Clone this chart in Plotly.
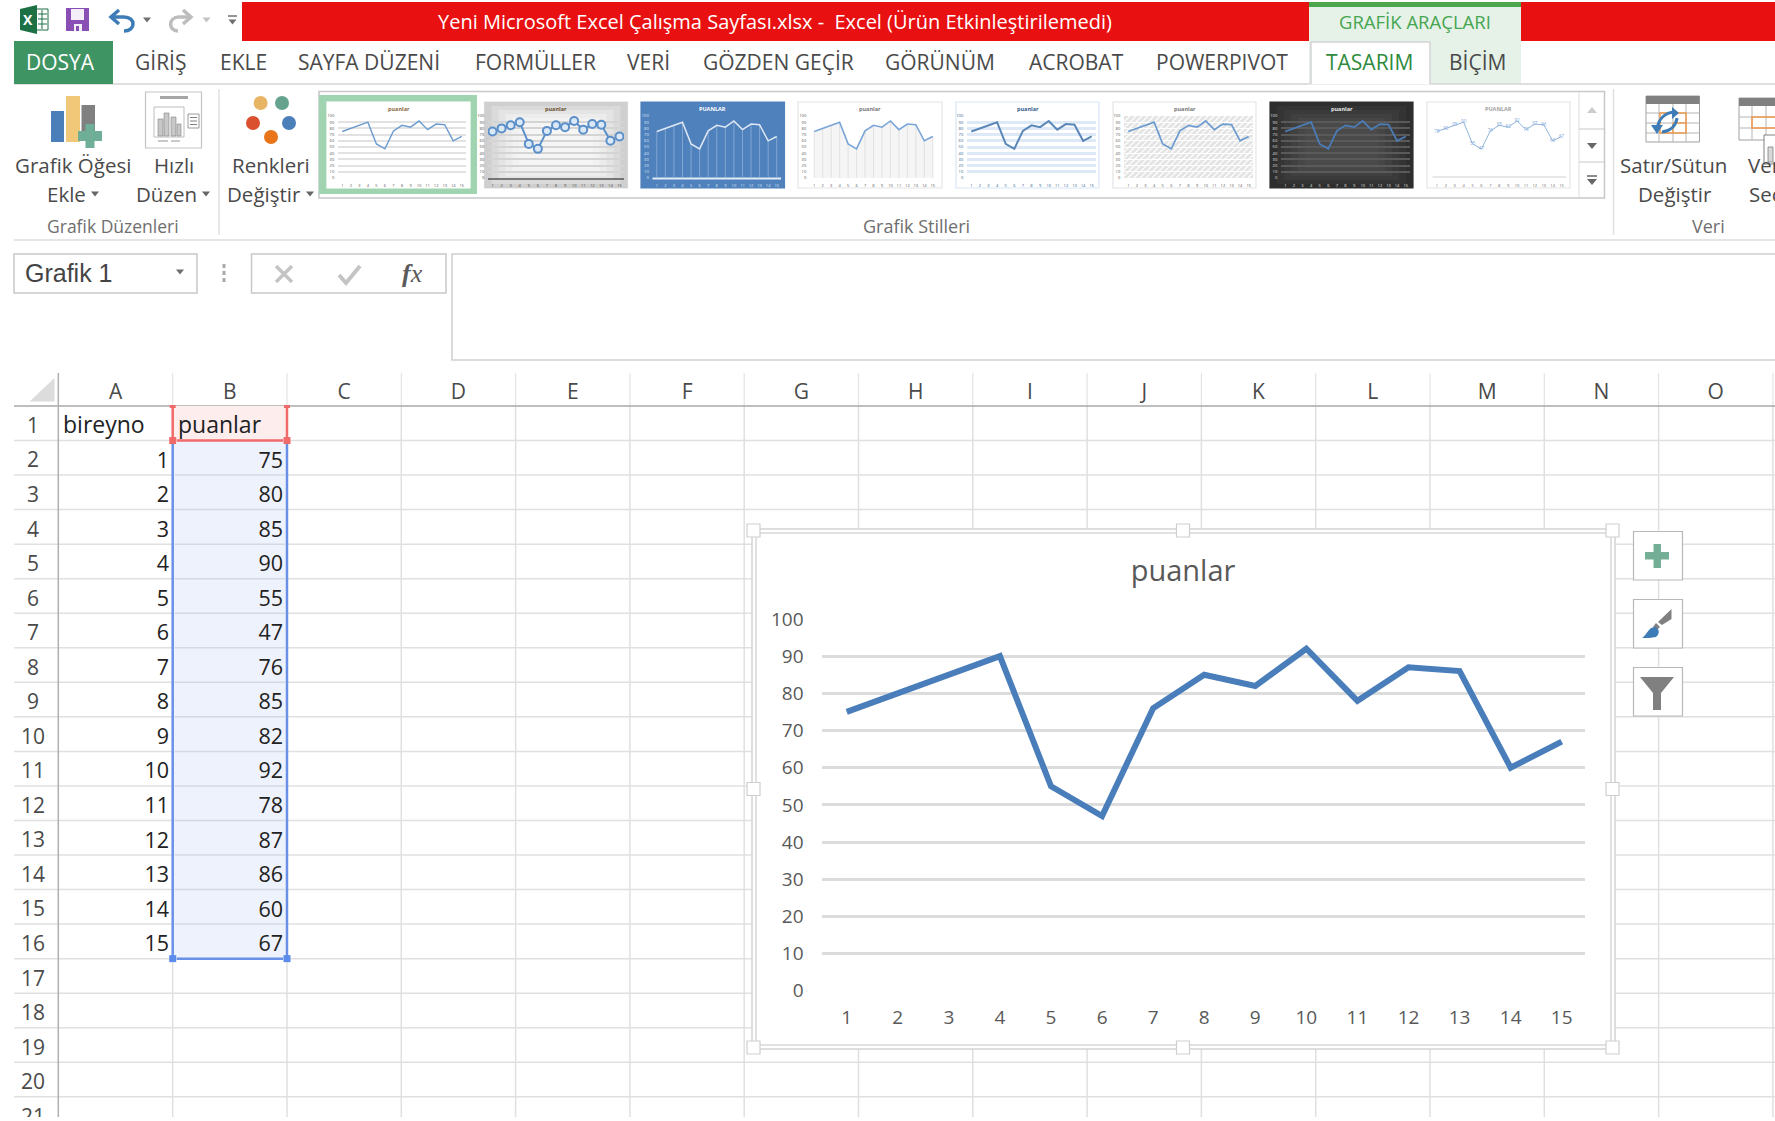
import plotly.graph_objects as go

# values from the sheet
bireyno = [1, 2, 3, 4, 5, 6, 7, 8, 9, 10, 11, 12, 13, 14, 15]
puanlar = [75, 80, 85, 90, 55, 47, 76, 85, 82, 92, 78, 87, 86, 60, 67]
y_ticks = [0, 10, 20, 30, 40, 50, 60, 70, 80, 90, 100]
col_names = ["A", "B", "C", "D", "E", "F", "G", "H", "I", "J", "K", "L", "M", "N", "O"]
row_names = [str(i) for i in range(1, 22)]
tabs = ["GİRİŞ", "EKLE", "SAYFA DÜZENİ", "FORMÜLLER", "VERİ", "GÖZDEN GEÇİR", "GÖRÜNÜM", "ACROBAT", "POWERPIVOT"]
tab_x = [160, 243, 369, 535, 648, 778, 940, 1076, 1222]

W, H = 1775, 1121
FONT = "Open Sans"
TXT = "#4a4a4a"
shapes = []
notes = []


def rect(x0, y0, x1, y1, fill=None, line=None, lw=1):
    shapes.append(dict(type="rect", xref="x", yref="y", x0=x0, y0=y0, x1=x1, y1=y1, layer="below",
                       fillcolor=fill or "rgba(0,0,0,0)",
                       line=dict(color=line or "rgba(0,0,0,0)", width=lw if line else 0)))


def seg(x0, y0, x1, y1, color="#dcdcdc", lw=1.5):
    shapes.append(dict(type="line", xref="x", yref="y", x0=x0, y0=y0, x1=x1, y1=y1, layer="below",
                       line=dict(color=color, width=lw)))


def path(d, fill=None, line=None, lw=1):
    shapes.append(dict(type="path", xref="x", yref="y", path=d, layer="below",
                       fillcolor=fill or "rgba(0,0,0,0)",
                       line=dict(color=line or "rgba(0,0,0,0)", width=lw if line else 0)))


def circle(cx, cy, r, fill):
    shapes.append(dict(type="circle", xref="x", yref="y", x0=cx - r, y0=cy - r, x1=cx + r, y1=cy + r,
                       layer="below", fillcolor=fill, line=dict(width=0)))


def label(x, y, text, size=20.5, color=TXT, anchor="center", family=FONT):
    notes.append(dict(xref="x", yref="y", x=x, y=y, text=text, showarrow=False, xanchor=anchor,
                      yanchor="middle", font=dict(family=family, size=size, color=color)))


def tri(cx, cy, s=4, color="#666666"):
    path(f"M{cx-s},{cy-s*0.6} L{cx+s},{cy-s*0.6} L{cx},{cy+s*0.6} Z", fill=color)


def glow(box, colors):
    # concentric boxes stand in for the radial fill of two gallery styles
    x0, y0, x1, y1 = box
    for k, c in enumerate(colors):
        rect(x0 + k * 7, y0 + k * 4, x1 - k * 7, y1 - k * 4, fill=c)


# title bar
rect(242, 2, 1775, 41, fill="#E81010")
rect(1309, 2, 1521, 84, fill="#E6F2E8")
rect(1309, 2, 1521, 7, fill="#4CA64C")
label(775, 21, "Yeni Microsoft Excel Çalışma Sayfası.xlsx -  Excel (Ürün Etkinleştirilemedi)", size=20, color="#ffffff")
label(1415, 21.5, "GRAFİK ARAÇLARI", size=18.5, color="#45A550")

# quick access icons
rect(36, 9, 48, 30, fill="#ffffff", line="#1D7044", lw=1)
for yy in (14, 19, 24):
    seg(38, yy, 47, yy, "#1D7044", 1)
seg(42, 10, 42, 29, "#1D7044", 1)
path("M20,9 L37,5 L37,34 L20,30 Z", fill="#1D7044")
label(28, 19.5, "<b>X</b>", size=14, color="#ffffff")
rect(66, 8, 89, 31, fill="#8A4FB5")
rect(71, 9, 84, 20, fill="#f4eef8")
rect(74, 24, 82, 31, fill="#f4eef8")
rect(76, 26, 79, 31, fill="#8A4FB5")
path("M112,17 L124,17 C136,17 136,31 124,31", line="#3E7CB8", lw=3.5)
path("M119,10 L111,17 L119,24", line="#3E7CB8", lw=3.5)
path("M190,17 L179,17 C168,17 168,31 178,31", line="#BDBDBD", lw=3.5)
path("M183,10 L191,17 L183,24", line="#BDBDBD", lw=3.5)
tri(147, 20, 4, "#707070")
tri(206.5, 20, 4, "#c4c4c4")
seg(228, 16, 237, 16, "#707070", 1.5)
tri(232.5, 22, 4, "#707070")

# tabs
seg(14, 84, 1775, 84, "#d4d4d4", 1.5)
rect(14, 41, 113, 84, fill="#3F9464")
label(60, 62, "DOSYA", size=21, color="#ffffff")
for name, x in zip(tabs, tab_x):
    label(x, 62, name, size=21)
rect(1311, 42, 1430, 85, fill="#ffffff", line="#d4d4d4", lw=1.5)
rect(1309, 84.5, 1431, 90, fill="#ffffff")
label(1369, 62, "TASARIM", size=21, color="#2E8B3D")
label(1477, 62, "BİÇİM", size=21)

# ribbon, left groups
seg(14, 240, 1775, 240, "#dcdcdc", 1.5)
seg(219, 89, 219, 235, "#e0e0e0", 1.5)
seg(1613.5, 89, 1613.5, 235, "#e0e0e0", 1.5)
rect(51, 111, 64, 142, fill="#4A7FBA")
rect(66, 96, 80, 142, fill="#F0C878")
rect(81.5, 105, 95, 135, fill="#808080")
rect(78, 131, 102, 141, fill="#6FAF98")
rect(85.5, 124, 94.5, 148, fill="#6FAF98")
rect(145.5, 92, 201.5, 148, fill="#ffffff", line="#c4c4c4", lw=1.2)
rect(160, 96, 188, 99, fill="#a6a6a6")
rect(154, 107, 184, 137, line="#bdbdbd", lw=1)
rect(158, 119, 163, 136, fill="#c8c8c8", line="#808080", lw=0.6)
rect(164, 113, 169, 136, fill="#c8c8c8", line="#808080", lw=0.6)
rect(171, 117, 176, 136, fill="#c8c8c8", line="#808080", lw=0.6)
rect(177, 124, 181, 136, fill="#c8c8c8", line="#808080", lw=0.6)
rect(188, 114, 199, 128, fill="#ffffff", line="#808080", lw=0.8)
for yy in (117.5, 121, 124.5):
    seg(190, yy, 197, yy, "#808080", 1)
seg(158, 141, 168, 141, "#a6a6a6", 1.2)
seg(171, 141, 180, 141, "#a6a6a6", 1.2)
circle(260.6, 103, 7, "#E8B565")
circle(282, 103, 7, "#66A38E")
circle(253, 123, 7, "#D9512E")
circle(289, 123, 7, "#4A7FBA")
circle(271, 137, 7, "#E8751A")
label(72.5, 165, "Grafik Öğesi")
label(66, 194, "Ekle")
tri(95, 194)
label(174, 165, "Hızlı")
label(166.5, 194, "Düzen")
tri(206, 194)
label(271, 165, "Renkleri")
label(264, 194, "Değiştir")
tri(310, 194)
label(112.5, 226, "Grafik Düzenleri", size=17.5, color="#6e6e6e")
label(916, 226, "Grafik Stilleri", size=18, color="#6e6e6e")

# gallery frame
rect(319, 91.5, 1604.5, 198, fill="#ffffff", line="#c8c8c8", lw=1.5)
seg(1579, 91.5, 1579, 198, "#dcdcdc", 1)
seg(1579, 129, 1604.5, 129, "#c8c8c8", 1)
seg(1579, 162, 1604.5, 162, "#c8c8c8", 1)
path("M1587,113 L1597,113 L1592,107 Z", fill="#cccccc")
path("M1587,143 L1597,143 L1592,149 Z", fill="#666666")
seg(1587, 176, 1597, 176, "#666666", 1.5)
path("M1587,179 L1597,179 L1592,185 Z", fill="#666666")

# right group
rect(1646, 96, 1699.5, 142, fill="#ffffff", line="#a0a0a0", lw=1)
rect(1646, 96, 1699.5, 104, fill="#808080")
for xx in (1659, 1673, 1686):
    seg(xx, 104, xx, 142, "#b4b4b4", 1)
for yy in (113, 123, 133):
    seg(1646, yy, 1699.5, yy, "#b4b4b4", 1)
rect(1660, 113, 1686, 133, line="#ED9B4F", lw=1.5)
seg(1673, 123, 1686, 123, "#ED9B4F", 1.5)
seg(1673, 123, 1673, 133, "#ED9B4F", 1.5)
path("M1657,129 C1659,117 1667,112 1676,112", line="#3E7CB8", lw=3)
path("M1677,118 C1676,126 1670,131 1662,132", line="#3E7CB8", lw=3)
path("M1651,125 L1663,125 L1657,134 Z", fill="#3E7CB8")
path("M1672,107 L1679,113 L1672,119 Z", fill="#3E7CB8")
rect(1739, 98, 1790, 140, fill="#ffffff", line="#a0a0a0", lw=1)
rect(1739, 98, 1790, 106, fill="#808080")
for yy in (117, 128):
    seg(1739, yy, 1790, yy, "#b4b4b4", 1)
for xx in (1752, 1766):
    seg(xx, 106, xx, 140, "#b4b4b4", 1)
rect(1752, 117, 1790, 128, line="#ED9B4F", lw=1.5)
rect(1764, 135, 1790, 164, fill="#ffffff", line="#808080", lw=1)
rect(1768, 147, 1773, 162, fill="#d8d8d8", line="#808080", lw=0.8)
label(1673, 165, "Satır/Sütun")
label(1675, 194, "Değiştir")
label(1746, 165, "Veri", anchor="left")
label(1747, 194, "Seç", anchor="left")
label(1708, 226, "Veri", size=18, color="#6e6e6e")

# formula bar
rect(14, 254, 197, 293, fill="#ffffff", line="#c8c8c8", lw=1.5)
label(23, 273, "Grafik 1", size=25, color="#444444", anchor="left", family="Liberation Sans")
tri(180, 272, 4, "#707070")
for yy in (266, 273, 280):
    rect(222.5, yy - 2, 225.5, yy + 2, fill="#a8a8a8")
rect(251.5, 254, 446, 293, fill="#ffffff", line="#c8c8c8", lw=1.5)
path("M276,266 L292,282 M292,266 L276,282", line="#c4c4c4", lw=3.5)
path("M339,275 L346,283 L360,266", line="#c4c4c4", lw=4)
label(412, 273, "<i><b>f</b>x</i>", size=26, color="#5a5a5a", family="Liberation Serif")
rect(452, 254, 1790, 360, fill="#ffffff", line="#d0d0d0", lw=1.5)

# sheet grid
col0, col_w = 172.7, 114.3
row0, row_h = 406, 34.54
col_lines = [58.3] + [col0 + col_w * i for i in range(15)]
row_lines = [row0 + row_h * i for i in range(1, 21)]
for x in col_lines[1:]:
    seg(x, row0, x, 1117, "#e0e0e0", 1.5)
    seg(x, 373, x, row0, "#e4e4e4", 1.2)
for y in row_lines:
    seg(14, y, 1775, y, "#e0e0e0", 1.5)
seg(14, row0, 1775, row0, "#a8a8a8", 1.5)
seg(58.3, 373, 58.3, 1117, "#b0b0b0", 1.5)
path("M29.5,401.5 L54.5,378 L54.5,401.5 Z", fill="#dcdcdc")

# selected ranges
rect(col0, row0, col0 + col_w, row_lines[0], fill="#FDEDED")
rect(col0, row_lines[0], col0 + col_w, row_lines[15], fill="#EEF2FC")
for y in row_lines[1:15]:
    seg(col0 + 2, y, col0 + col_w - 2, y, "#d4d8e4", 1.5)
for x in (col0, col0 + col_w):
    seg(x, row0, x, row_lines[0], "#F06A6A", 2.5)
    seg(x, row_lines[0] + 3, x, row_lines[15], "#6A90E8", 2.5)
    rect(x - 3, row0 - 1, x + 3, row0 + 2, fill="#F06A6A")
    rect(x - 3.5, row_lines[0] - 3.5, x + 3.5, row_lines[0] + 3.5, fill="#F06A6A")
    rect(x - 3.5, row_lines[15] - 3.5, x + 3.5, row_lines[15] + 3.5, fill="#5B8CEB")
seg(col0 + 4, row_lines[0], col0 + col_w - 4, row_lines[0], "#F06A6A", 2.5)
seg(col0 + 4, row_lines[15], col0 + col_w - 4, row_lines[15], "#6A90E8", 2.5)

# chart frame
rect(752, 529, 1615, 1049, fill="#ffffff", line="#d4d4d4", lw=1.5)
rect(756, 533, 1611, 1045, fill="#ffffff", line="#d8d8d8", lw=1.5)
for hx in (753.5, 1183, 1612.5):
    for hy in (530.5, 789, 1047.5):
        if hx == 1183 and hy == 789:
            continue
        rect(hx - 6.5, hy - 6.5, hx + 6.5, hy + 6.5, fill="#ffffff", line="#cfcfcf", lw=1.2)

# chart buttons
for y0 in (531.5, 599.5, 667.5):
    rect(1633.5, y0, 1682.5, y0 + 48.5, fill="#ffffff", line="#b8b8b8", lw=1.2)
rect(1645, 552, 1669, 559.5, fill="#74AE97")
rect(1653.5, 544, 1661, 568, fill="#74AE97")
path("M1671.5,609 L1671.5,619 L1662,625 L1658,622 Z", fill="#808080")
path("M1656,623 L1660,627 L1657,630 L1653,627 Z", fill="#808080")
path("M1642,638 C1646,636 1648,628 1654,627 C1660,628 1660,634 1656,637 C1652,638 1646,638 1642,638 Z", fill="#3E7CB8")
path("M1640,677 L1674,677 L1661,693 L1661,710 L1653,710 L1653,693 Z", fill="#808080")

fig = go.Figure()

# page axes in screen pixels, carries the sheet text
text_dy = 4.4
fig.add_trace(go.Scatter(x=[col0 + col_w * (i - 0.5) for i in range(len(col_names))],
                         y=[393.5] * len(col_names), text=col_names, mode="text",
                         textposition="middle center", textfont=dict(family=FONT, size=21, color="#4a4a4a")))
fig.add_trace(go.Scatter(x=[33] * len(row_names), y=[row0 + row_h * (i + 0.5) + text_dy for i in range(len(row_names))],
                         text=row_names, mode="text", textposition="middle center",
                         textfont=dict(family=FONT, size=21, color="#4a4a4a")))
fig.add_trace(go.Scatter(x=[63, 178], y=[row0 + row_h * 0.5 + text_dy] * 2, text=["bireyno", "puanlar"], mode="text",
                         textposition="middle right", textfont=dict(family=FONT, size=23, color="#222222")))
fig.add_trace(go.Scatter(x=[169] * len(bireyno), y=[row0 + row_h * (i + 1.5) + text_dy for i in range(len(bireyno))],
                         text=[str(v) for v in bireyno], mode="text", textposition="middle left",
                         textfont=dict(family=FONT, size=21.5, color="#222222")))
fig.add_trace(go.Scatter(x=[283] * len(puanlar), y=[row0 + row_h * (i + 1.5) + text_dy for i in range(len(puanlar))],
                         text=[str(v) for v in puanlar], mode="text", textposition="middle left",
                         textfont=dict(family=FONT, size=21.5, color="#222222")))

# the chart itself
fig.add_trace(go.Scatter(x=bireyno, y=puanlar, mode="lines", xaxis="x2", yaxis="y2",
                         line=dict(color="#4A7EBB", width=6)))

layout_axes = dict(
    xaxis=dict(domain=[0, 1], range=[0, W], visible=False, fixedrange=True),
    yaxis=dict(domain=[4 / H, 1], range=[1117, 0], visible=False, fixedrange=True),
    xaxis2=dict(domain=[822.4 / W, 1585 / W], range=[0.524, 15.456], tickvals=bireyno, showgrid=False,
                zeroline=False, showline=False, ticks="outside", ticklen=9.5, tickcolor="rgba(0,0,0,0)",
                tickfont=dict(family=FONT, size=19, color="#595959"), anchor="y2"),
    yaxis2=dict(domain=[1 - 990.7 / H, 1 - 619 / H], range=[0, 100], tickvals=y_ticks, showgrid=True,
                gridcolor="#dcdcdc", gridwidth=2.5, zeroline=False, showline=False, ticks="outside",
                ticklen=14, tickcolor="rgba(0,0,0,0)",
                tickfont=dict(family=FONT, size=19, color="#595959"), anchor="x2"),
)

# style gallery: same series in eight small charts
gallery = [
    dict(box=(327, 102, 470, 188), plot=(338, 116, 466, 178), bg="#ffffff", edge="#ffffff", grid="#e2e2e2", gw=1.5,
         line="#6C9BD0", lw=1.4, tick="#555555", title="#8a6a40", name="puanlar"),
    dict(box=(484.5, 102, 627.5, 188), plot=(488, 116, 624, 178), bg="#cfcfcf", edge="#dedede", grid="#d4d4d4", gw=1.5,
         line="#5B8FC9", lw=2, tick="#444444", title="#6a5030", marker=True, name="puanlar",
         glow=["#cfcfcf", "#dadada", "#e4e4e4", "#ececec", "#f2f2f2", "#f5f5f5"]),
    dict(box=(641, 102, 784.5, 188), plot=(652.5, 116, 781, 178), bg="#4F81BD", edge="#4F81BD", grid="#4F81BD", gw=1,
         line="#dfe8f4", lw=1.5, tick="#dfe8f3", title="#ffffff", drop="#8fb0d8", name="PUANLAR"),
    dict(box=(798, 102, 942, 188), plot=(810, 116, 937, 178), bg="#ffffff", edge="#e4e4e4", grid="#ffffff", gw=1,
         line="#7AA5D8", lw=1.6, tick="#555555", title="#777777", drop="#dcdcdc", fill="#f5f5f5", name="puanlar"),
    dict(box=(956, 102, 1099, 188), plot=(967, 116, 1096, 178), bg="#ffffff", edge="#d8e6f5", grid="#dde9f6", gw=2.5,
         line="#5B86B8", lw=2, tick="#345a8a", title="#345a8a", name="puanlar"),
    dict(box=(1113, 102, 1256, 188), plot=(1124, 116, 1253, 178), bg="#ffffff", edge="#e4e4e4", grid="#ffffff", gw=1,
         line="#6C9BD0", lw=1.7, tick="#555555", title="#777777", hatch="#e4e4e4", name="puanlar"),
    dict(box=(1270, 102, 1413, 188), plot=(1281, 116, 1410, 178), bg="#2e2e2e", edge="#333333", grid="#5a5a5a", gw=2,
         line="#4A7EBB", lw=1.7, tick="#e0e0e0", title="#e8e8e8", name="puanlar",
         glow=["#2e2e2e", "#343434", "#3a3a3a", "#404040", "#464646", "#4a4a4a"]),
    dict(box=(1427, 102, 1570, 188), plot=(1432.5, 116, 1566, 178), bg="#ffffff", edge="#e4e4e4", grid="#ffffff", gw=1,
         line="#8fb4de", lw=1, tick="#666666", title="#a0a0a0", labels=True, name="PUANLAR"),
]

for i, st in enumerate(gallery):
    n = i + 3
    bx0, by0, bx1, by1 = st["box"]
    if i == 0:
        rect(319, 95, 477, 194, fill="#A0D4B0")
    rect(bx0, by0, bx1, by1, fill=st["bg"], line=st["edge"], lw=1.2)
    if st.get("glow"):
        glow(st["box"], st["glow"])
    px0, py0, px1, py1 = st["plot"]
    if st.get("hatch"):
        rect(px0, py0, px1, py1, fill=st["hatch"])
        span = py1 - py0
        d = ""
        xs = px0 - span
        while xs < px1:
            sx, sy = (px0, py1 - (px0 - xs)) if xs < px0 else (xs, py1)
            ex, ey = (px1, py1 - (px1 - xs)) if xs + span > px1 else (xs + span, py0)
            d += f"M{sx},{sy} L{ex},{ey} "
            xs += 6
        path(d, line="#ffffff", lw=1.2)
    tr = dict(x=bireyno, y=puanlar, mode="lines", xaxis=f"x{n}", yaxis=f"y{n}",
              line=dict(color=st["line"], width=st["lw"]))
    if st.get("marker"):
        tr["mode"] = "lines+markers"
        tr["marker"] = dict(size=8, color="#dbe8f6", line=dict(width=2, color="#5B8FC9"))
    if st.get("labels"):
        tr["mode"] = "lines+text"
        tr["text"] = puanlar
        tr["textposition"] = "middle center"
        tr["textfont"] = dict(family=FONT, size=4.5, color="#7fa8d8")
    if st.get("drop"):
        tr["error_y"] = dict(type="percent", value=0, valueminus=100, symmetric=False, width=0,
                             color=st["drop"], thickness=0.8)
    if st.get("fill"):
        tr["fill"] = "tozeroy"
        tr["fillcolor"] = st["fill"]
    fig.add_trace(go.Scatter(**tr))
    no_y = i == 7
    layout_axes[f"xaxis{n}"] = dict(domain=[px0 / W, px1 / W], range=[0.5, 15.5], tickvals=bireyno,
                                    showgrid=False, zeroline=False,
                                    showline=False, ticks="outside", ticklen=3, tickcolor="rgba(0,0,0,0)",
                                    tickfont=dict(family=FONT, size=4, color=st["tick"]),
                                    anchor=f"y{n}", fixedrange=True)
    layout_axes[f"yaxis{n}"] = dict(domain=[1 - py1 / H, 1 - py0 / H], range=[0, 100], tickvals=y_ticks,
                                    showgrid=not no_y, gridcolor=st["grid"], gridwidth=st["gw"], zeroline=False,
                                    showline=False, ticks="outside", ticklen=2, tickcolor="rgba(0,0,0,0)",
                                    showticklabels=not no_y,
                                    tickfont=dict(family=FONT, size=4, color=st["tick"]),
                                    anchor=f"x{n}", fixedrange=True)
    if i == 1:
        seg(px0, py1 + 1, px1, py1 + 1, "#555555", 1.5)
    if i == 2:
        seg(px0, py1 + 0.5, px1, py1 + 0.5, "#e4ecf6", 2)
    if i == 7:
        seg(px0, py1 - 1, px1, py1 - 1, "#d0d0d0", 1)
    label((bx0 + bx1) / 2, 108.5, f"<b>{st['name']}</b>", size=5.5, color=st["title"])

fig.update_layout(
    width=W, height=H, margin=dict(l=0, r=0, t=0, b=0, autoexpand=False),
    paper_bgcolor="#ffffff", plot_bgcolor="rgba(0,0,0,0)",
    showlegend=False, hovermode=False,
    title=dict(text="puanlar", xref="paper", yref="container", x=1183 / W, y=1 - 570.5 / H,
               xanchor="center", yanchor="middle", font=dict(family=FONT, size=29, color="#595959")),
    shapes=shapes, annotations=notes,
    **layout_axes,
)

fig.write_html("out.html", config=dict(displayModeBar=False),
               post_script="document.body.style.margin='0';document.documentElement.style.overflow='hidden';")
